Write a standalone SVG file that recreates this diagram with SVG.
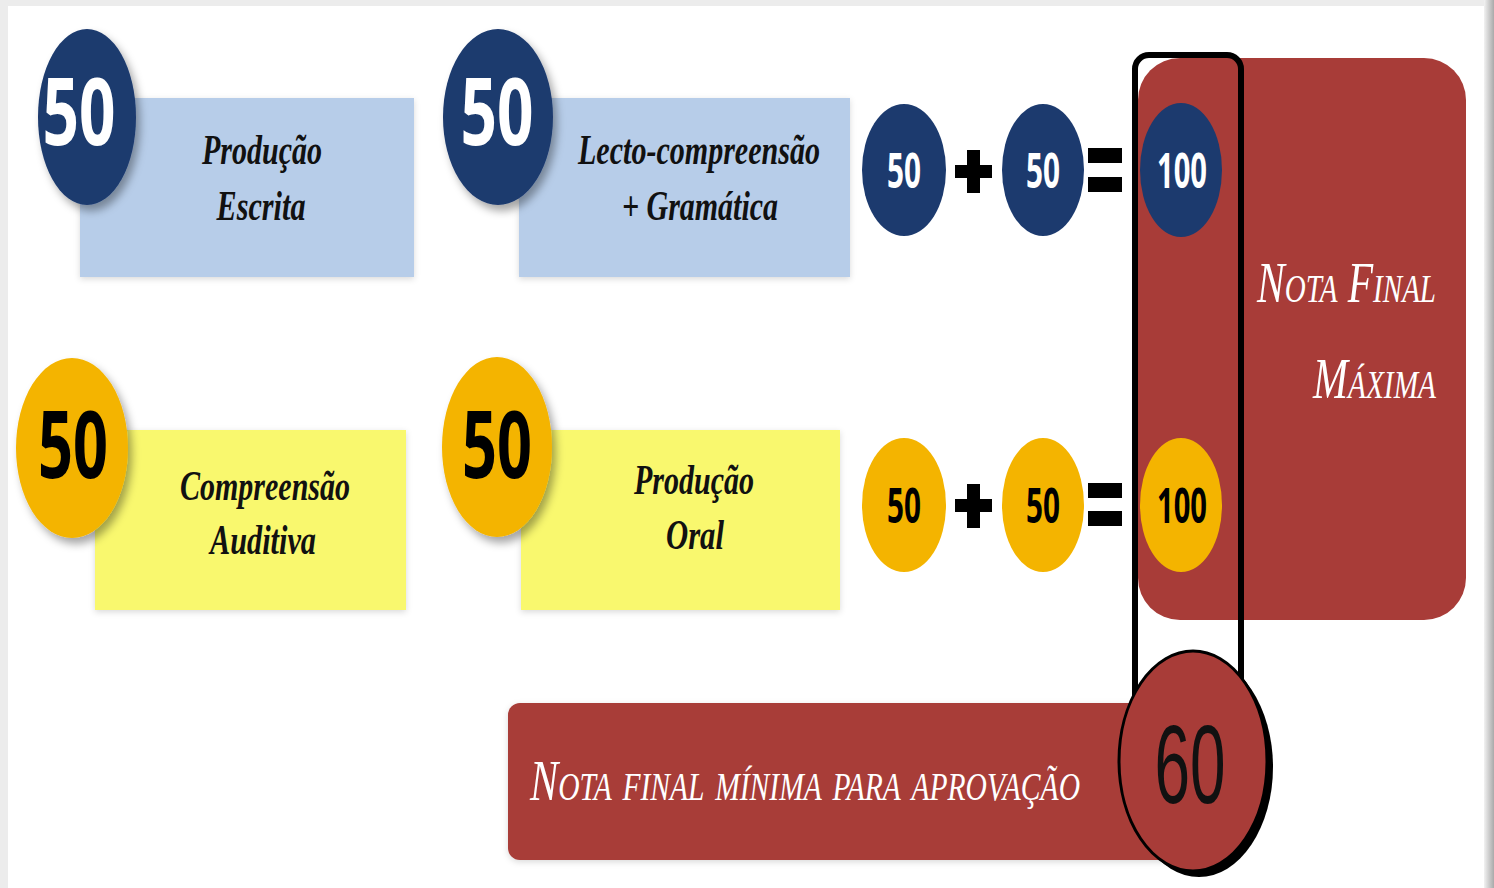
<svg xmlns="http://www.w3.org/2000/svg" width="1494" height="888" viewBox="0 0 1494 888">
<defs>
<filter id="sh" x="-30%" y="-30%" width="160%" height="160%"><feDropShadow dx="4" dy="6" stdDeviation="4" flood-color="#000" flood-opacity="0.35"/></filter>
<filter id="soft" x="-10%" y="-10%" width="120%" height="120%"><feDropShadow dx="0" dy="2" stdDeviation="3" flood-color="#000" flood-opacity="0.15"/></filter>
<linearGradient id="edge" x1="0" y1="0" x2="1" y2="0"><stop offset="0" stop-color="#f2f2f2"/><stop offset="1" stop-color="#a9a9a9"/></linearGradient>
<style>
.lbl{font-family:"Liberation Serif","Times New Roman",serif;font-style:italic;font-weight:bold;font-size:30px;fill:#111;text-anchor:middle}
.big{font-family:"Open Sans","Liberation Sans",sans-serif;font-weight:bold;font-size:64px;text-anchor:middle}
.sm{font-family:"Open Sans","Liberation Sans",sans-serif;font-weight:bold;font-size:30px;text-anchor:middle}
.cap{font-family:"Liberation Serif","Times New Roman",serif;font-style:italic;font-variant:small-caps;font-size:40px;fill:#fff}
.navy{fill:#1c3a6e}
.gold{fill:#f4b400}
.blue{fill:#b7cde9}
.yel{fill:#f9f86e}
.red{fill:#a83c38}
.op{fill:#000}
</style>
</defs>
<rect x="0" y="0" width="1494" height="888" fill="#ececec"/>
<rect x="8" y="6" width="1478" height="882" fill="#fff"/>
<rect x="1484" y="0" width="10" height="888" fill="url(#edge)"/>

<g id="escrita">
<rect x="80" y="98" width="334" height="179" class="blue" filter="url(#soft)"/>
<ellipse cx="87" cy="117" rx="49" ry="88" class="navy" filter="url(#sh)"/>
<text transform="translate(79,145) scale(1,1.47)" class="big" fill="#fff" textLength="73" lengthAdjust="spacingAndGlyphs">50</text>
<text transform="translate(262,164) scale(1,1.42)" class="lbl" textLength="120" lengthAdjust="spacingAndGlyphs">Produção</text>
<text transform="translate(261,220) scale(1,1.42)" class="lbl" textLength="89" lengthAdjust="spacingAndGlyphs">Escrita</text>
</g>

<g id="lecto">
<rect x="519" y="98" width="331" height="179" class="blue" filter="url(#soft)"/>
<ellipse cx="498" cy="117" rx="55" ry="88" class="navy" filter="url(#sh)"/>
<text transform="translate(497,145) scale(1,1.47)" class="big" fill="#fff" textLength="73" lengthAdjust="spacingAndGlyphs">50</text>
<text transform="translate(699,164) scale(1,1.42)" class="lbl" textLength="242" lengthAdjust="spacingAndGlyphs">Lecto-compreensão</text>
<text transform="translate(700,220) scale(1,1.42)" class="lbl" textLength="156" lengthAdjust="spacingAndGlyphs">+ Gramática</text>
</g>

<g id="auditiva">
<rect x="95" y="430" width="311" height="180" class="yel" filter="url(#soft)"/>
<ellipse cx="72" cy="448" rx="56" ry="90" class="gold" filter="url(#sh)"/>
<text transform="translate(73,478) scale(1,1.47)" class="big" fill="#000" textLength="70" lengthAdjust="spacingAndGlyphs">50</text>
<text transform="translate(265,500) scale(1,1.42)" class="lbl" textLength="170" lengthAdjust="spacingAndGlyphs">Compreensão</text>
<text transform="translate(263,554) scale(1,1.42)" class="lbl" textLength="106" lengthAdjust="spacingAndGlyphs">Auditiva</text>
</g>

<g id="oral">
<rect x="521" y="430" width="319" height="180" class="yel" filter="url(#soft)"/>
<ellipse cx="497" cy="447" rx="55" ry="90" class="gold" filter="url(#sh)"/>
<text transform="translate(497,478) scale(1,1.47)" class="big" fill="#000" textLength="70" lengthAdjust="spacingAndGlyphs">50</text>
<text transform="translate(694,494) scale(1,1.42)" class="lbl" textLength="120" lengthAdjust="spacingAndGlyphs">Produção</text>
<text transform="translate(695,549) scale(1,1.42)" class="lbl" textLength="58" lengthAdjust="spacingAndGlyphs">Oral</text>
</g>

<g id="nota-final-maxima">
<rect x="1138" y="58" width="328" height="562" rx="42" class="red"/>
<text transform="translate(1436,302) scale(1,1.4)" class="cap" text-anchor="end" textLength="179" lengthAdjust="spacingAndGlyphs">Nota Final</text>
<text transform="translate(1436,398) scale(1,1.4)" class="cap" text-anchor="end" textLength="123" lengthAdjust="spacingAndGlyphs">Máxima</text>
</g>

<g id="soma-escrita">
<ellipse cx="904" cy="170" rx="42" ry="66" class="navy"/>
<text transform="translate(904,188) scale(1,1.6)" class="sm" fill="#fff" textLength="34" lengthAdjust="spacingAndGlyphs">50</text>
<rect x="955" y="165" width="37" height="13" class="op"/>
<rect x="967" y="150" width="13" height="43" class="op"/>
<ellipse cx="1043" cy="170" rx="41" ry="66" class="navy"/>
<text transform="translate(1043,188) scale(1,1.6)" class="sm" fill="#fff" textLength="34" lengthAdjust="spacingAndGlyphs">50</text>
<rect x="1088" y="148" width="34" height="15" class="op"/>
<rect x="1088" y="177" width="34" height="15" class="op"/>
<ellipse cx="1181" cy="170" rx="41" ry="67" class="navy"/>
<text transform="translate(1182,188) scale(1,1.6)" class="sm" fill="#fff" textLength="50" lengthAdjust="spacingAndGlyphs">100</text>
</g>

<g id="soma-oral">
<ellipse cx="904" cy="505" rx="42" ry="67" class="gold"/>
<text transform="translate(904,523) scale(1,1.6)" class="sm" fill="#000" textLength="34" lengthAdjust="spacingAndGlyphs">50</text>
<rect x="955" y="499" width="37" height="13" class="op"/>
<rect x="967" y="484" width="13" height="44" class="op"/>
<ellipse cx="1043" cy="505" rx="41" ry="67" class="gold"/>
<text transform="translate(1043,523) scale(1,1.6)" class="sm" fill="#000" textLength="34" lengthAdjust="spacingAndGlyphs">50</text>
<rect x="1088" y="483" width="34" height="15" class="op"/>
<rect x="1088" y="511" width="34" height="15" class="op"/>
<ellipse cx="1181" cy="505" rx="41" ry="67" class="gold"/>
<text transform="translate(1182,523) scale(1,1.6)" class="sm" fill="#000" textLength="50" lengthAdjust="spacingAndGlyphs">100</text>
</g>

<g id="destaque">
<rect x="1135" y="55" width="106" height="700" rx="14" fill="none" stroke="#000" stroke-width="6"/>
</g>

<g id="nota-minima">
<rect x="508" y="703" width="700" height="157" rx="12" class="red" filter="url(#soft)"/>
<text transform="translate(530,800) scale(1,1.4)" class="cap" textLength="550" lengthAdjust="spacingAndGlyphs">Nota final mínima para aprovação</text>
<ellipse cx="1199" cy="767" rx="74" ry="110" fill="#000"/>
<ellipse cx="1193" cy="761" rx="74" ry="110" class="red" stroke="#000" stroke-width="3"/>
<text transform="translate(1190,803) scale(1,1.75)" font-family="Liberation Sans, Arial, sans-serif" font-size="64" fill="#111" text-anchor="middle" textLength="71" lengthAdjust="spacingAndGlyphs">60</text>
</g>
</svg>
